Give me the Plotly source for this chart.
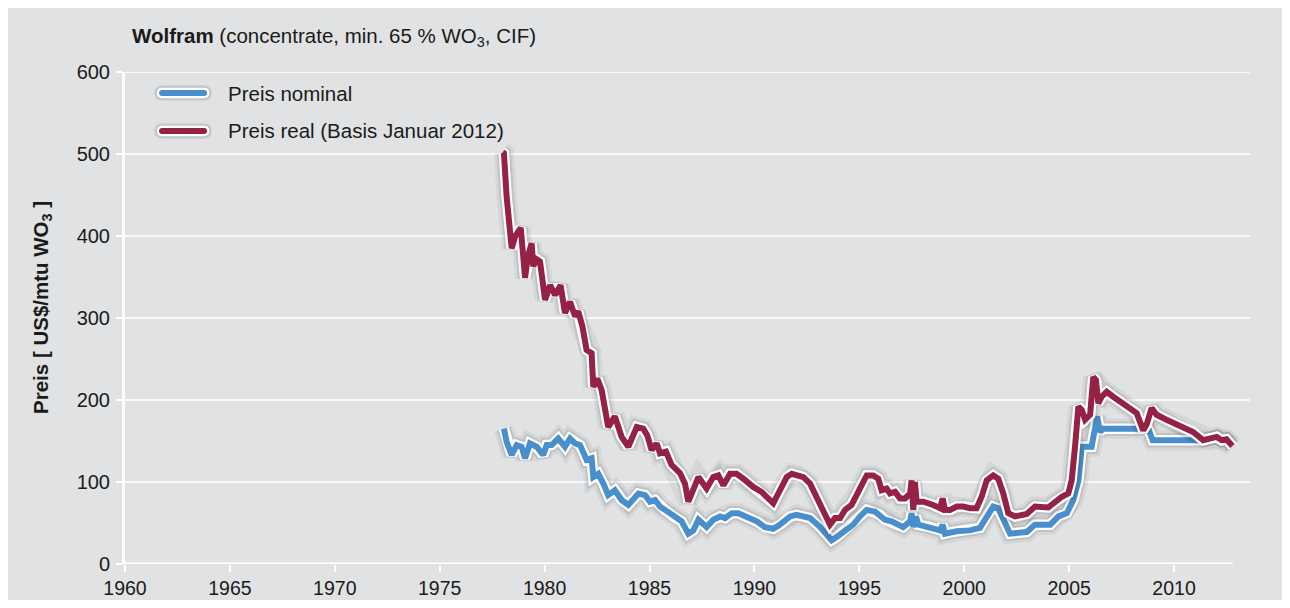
import plotly.graph_objects as go

# ---------------- data ----------------
real_years = [1978.0, 1978.06, 1978.19, 1978.43, 1978.6, 1978.86, 1979.07, 1979.2, 1979.38, 1979.46,
              1979.6, 1979.78, 1980.02, 1980.26, 1980.5, 1980.76, 1980.97, 1981.21, 1981.45, 1981.6,
              1981.8, 1982.0, 1982.24, 1982.32, 1982.51, 1982.72, 1983.03, 1983.35, 1983.67, 1983.99,
              1984.39, 1984.7, 1984.89, 1985.1, 1985.34, 1985.5, 1985.78, 1986.05, 1986.45, 1986.69,
              1986.85, 1987.17, 1987.33, 1987.72, 1988.04, 1988.28, 1988.52, 1988.84, 1989.15, 1989.47,
              1989.94, 1990.34, 1990.58, 1990.9, 1991.22, 1991.54, 1991.78, 1992.09, 1992.33, 1992.65,
              1992.96, 1993.28, 1993.6, 1993.84, 1994.08, 1994.32, 1994.63, 1994.87, 1995.11, 1995.35,
              1995.66, 1995.9, 1996.06, 1996.3, 1996.46, 1996.7, 1996.94, 1997.18, 1997.42, 1997.49,
              1997.57, 1997.65, 1997.73, 1998.05, 1998.52, 1998.85, 1998.97, 1999.08, 1999.32, 1999.64,
              1999.95, 2000.27, 2000.59, 2000.83, 2001.07, 2001.38, 2001.62, 2001.86, 2002.1, 2002.42,
              2002.98, 2003.37, 2004.01, 2004.33, 2004.65, 2004.96, 2005.12, 2005.28, 2005.44, 2005.6,
              2005.76, 2006.0, 2006.15, 2006.28, 2006.39, 2006.55, 2006.79, 2007.1, 2007.42, 2007.82,
              2008.22, 2008.53, 2008.69, 2008.93, 2009.17, 2009.64, 2010.12, 2010.52, 2010.91, 2011.39,
              2011.71, 2012.03, 2012.27, 2012.5, 2012.78]
real_price = [502, 501, 448, 385, 400, 410, 349, 375, 391, 363,
              372, 369, 322, 340, 328, 340, 306, 320, 302, 308,
              290, 261, 257, 216, 226, 212, 167, 180, 155, 143,
              167, 165, 157, 139, 147, 135, 137, 121, 111, 98,
              76, 98, 106, 92, 106, 108, 96, 110, 110, 104,
              94, 88, 82, 74, 90, 106, 110, 108, 106, 98,
              82, 66, 48, 56, 56, 66, 72, 84, 98, 108,
              108, 104, 90, 92, 86, 88, 80, 80, 86, 102,
              66, 100, 76, 76, 72, 68, 80, 66, 66, 70,
              70, 68, 68, 82, 102, 108, 104, 86, 62, 58,
              61, 70, 69, 76, 82, 86, 102, 143, 192, 188,
              176, 182, 228, 224, 196, 204, 210, 204, 198, 192,
              184, 163, 170, 190, 182, 176, 170, 165, 161, 151,
              153, 155, 151, 152, 144]

nominal_years = [1978.06, 1978.19, 1978.43, 1978.67, 1978.9, 1979.07, 1979.3, 1979.62, 1979.93, 1980.1,
                 1980.33, 1980.65, 1980.97, 1981.21, 1981.45, 1981.69, 1982.0, 1982.24, 1982.32, 1982.56,
                 1982.8, 1983.03, 1983.35, 1983.67, 1983.99, 1984.47, 1984.79, 1985.02, 1985.26, 1985.5,
                 1985.74, 1986.13, 1986.53, 1986.85, 1987.09, 1987.33, 1987.72, 1988.04, 1988.36, 1988.6,
                 1988.92, 1989.23, 1989.63, 1990.11, 1990.5, 1990.9, 1991.22, 1991.7, 1992.01, 1992.33,
                 1992.65, 1993.13, 1993.44, 1993.68, 1993.92, 1994.32, 1994.71, 1995.03, 1995.35, 1995.74,
                 1995.98, 1996.22, 1996.54, 1996.78, 1997.09, 1997.42, 1997.49, 1997.57, 1997.7, 1997.81,
                 1998.37, 1998.85, 1998.97, 1999.08, 1999.64, 2000.27, 2000.75, 2001.07, 2001.38, 2001.62,
                 2001.86, 2002.18, 2002.98, 2003.37, 2004.1, 2004.49, 2004.89, 2005.2, 2005.44, 2005.6,
                 2006.07, 2006.34, 2006.47, 2006.63, 2008.77, 2008.98, 2011.39, 2011.71, 2012.03, 2012.27,
                 2012.5, 2012.78]
nominal_price = [165, 149, 133, 145, 143, 129, 147, 143, 133, 145,
                 145, 153, 143, 153, 147, 145, 127, 129, 106, 110,
                 98, 84, 90, 78, 72, 86, 84, 76, 78, 70,
                 66, 58, 52, 37, 41, 54, 45, 54, 58, 56,
                 62, 62, 58, 52, 45, 43, 48, 58, 60, 58,
                 56, 45, 35, 29, 33, 41, 48, 58, 66, 64,
                 60, 54, 52, 48, 45, 52, 62, 45, 58, 48,
                 45, 41, 48, 37, 40, 41, 44, 58, 70, 68,
                 54, 37, 39, 48, 48, 58, 62, 78, 102, 143,
                 143, 180, 161, 165, 165, 151, 151, 153, 155, 151,
                 152, 144]

x_ticks = [1960, 1965, 1970, 1975, 1980, 1985, 1990, 1995, 2000, 2005, 2010]
y_ticks = [0, 100, 200, 300, 400, 500, 600]

series_names = ["Preis nominal", "Preis real (Basis Januar 2012)"]
series_colors = ["#4A8FCD", "#952144"]

# ---------------- styling ----------------
FONT = "Liberation Sans, Arial, sans-serif"
TXT = "#1a1a1a"
BG = "#E1E2E4"
X_MIN, X_MAX = 1960, 2013.62
AXIS_END = 2012.8

fig = go.Figure()

def add_series(xs, ys, color, name):
    # soft shadow, white outline, coloured core
    fig.add_trace(go.Scatter(x=xs, y=ys, mode="lines", showlegend=False, hoverinfo="skip",
                             line=dict(color="rgba(30,30,30,0.06)", width=20)))
    fig.add_trace(go.Scatter(x=xs, y=ys, mode="lines", showlegend=False, hoverinfo="skip",
                             line=dict(color="rgba(30,30,30,0.11)", width=14.5)))
    fig.add_trace(go.Scatter(x=xs, y=ys, mode="lines", showlegend=False, hoverinfo="skip",
                             line=dict(color="white", width=10.5)))
    fig.add_trace(go.Scatter(x=xs, y=ys, mode="lines", name=name, showlegend=False,
                             line=dict(color=color, width=6)))

add_series(nominal_years, nominal_price, series_colors[0], series_names[0])
add_series(real_years, real_price, series_colors[1], series_names[1])

shapes = []
# grey panel with thin white frame
shapes.append(dict(type="rect", xref="paper", yref="paper", x0=-0.1058, x1=1.0311, y0=-0.0752, y1=1.1341,
                   fillcolor=BG, line=dict(width=0), layer="below"))
# horizontal gridlines
for v in y_ticks[1:]:
    shapes.append(dict(type="line", xref="paper", yref="y", x0=0, x1=1, y0=v, y1=v,
                       line=dict(color="white", width=1.6), layer="below"))
# x axis line (ends before the plot edge)
shapes.append(dict(type="line", xref="x", yref="y", x0=X_MIN, x1=AXIS_END, y0=0, y1=0,
                   line=dict(color="white", width=3), layer="below"))


def stadium(a, r):
    """rounded line-sample outline in pixels, centred on its anchor"""
    return (f"M {-a},{-r} L {a},{-r} Q {a + r},{-r} {a + r},0 Q {a + r},{r} {a},{r} "
            f"L {-a},{r} Q {-a - r},{r} {-a - r},0 Q {-a - r},{-r} {-a},{-r} Z")


# manual legend (samples with rounded ends)
leg_y = [0.9573, 0.8801]
leg_cx = 0.0516          # sample centre (plot fraction)
half_len = 21            # px
annotations = []
for name, color, yy in zip(series_names, series_colors, leg_y):
    for col, r in [("rgba(30,30,30,0.08)", 8.0), ("rgba(30,30,30,0.10)", 6.5), ("white", 5.2), (color, 3.0)]:
        shapes.append(dict(type="path", xref="paper", yref="paper", xsizemode="pixel", ysizemode="pixel",
                           xanchor=leg_cx, yanchor=yy, path=stadium(half_len, r),
                           fillcolor=col, line=dict(width=0), layer="above"))
    annotations.append(dict(x=0.0898, y=yy, xref="paper", yref="paper", xanchor="left", yanchor="middle",
                            text=name, showarrow=False, font=dict(family=FONT, size=20.5, color=TXT)))

# title
annotations.append(dict(x=0.0044, y=1.0711, xref="paper", yref="paper", xanchor="left", yanchor="middle",
                        text="<b>Wolfram</b> (concentrate, min. 65 % WO<sub>3</sub>, CIF)",
                        showarrow=False, font=dict(family=FONT, size=20.5, color=TXT)))
# y-axis title
annotations.append(dict(x=-0.0738, y=0.5224, xref="paper", yref="paper", xanchor="center", yanchor="middle",
                        text="<b>Preis [ US$/mtu WO<sub>3</sub> ]</b>", textangle=-90,
                        showarrow=False, font=dict(family=FONT, size=20.5, color=TXT)))

# page body has an 8 px margin: shrink the figure and shift margins to compensate
fig.update_layout(
    width=1274, height=592,
    margin=dict(l=117, r=32, t=64, b=36, autoexpand=False),
    paper_bgcolor="white",
    plot_bgcolor=BG,
    showlegend=False,
    font=dict(family=FONT, size=18, color=TXT),
    shapes=shapes,
    annotations=annotations,
    xaxis=dict(range=[X_MIN, X_MAX], tickvals=x_ticks, ticktext=[str(t) for t in x_ticks],
               showgrid=False, zeroline=False, showline=False, automargin=False,
               ticks="outside", ticklen=7, tickwidth=2, tickcolor="white", ticklabelstandoff=0,
               tickfont=dict(family=FONT, size=19.5, color=TXT)),
    yaxis=dict(range=[0, 600], tickvals=y_ticks, ticktext=[str(t) for t in y_ticks],
               showgrid=False, zeroline=False, showline=True, linecolor="white", linewidth=3,
               automargin=False,
               ticks="outside", ticklen=6, tickwidth=2, tickcolor="white", ticklabelstandoff=2,
               tickfont=dict(family=FONT, size=20, color=TXT)),
)

fig.write_html("out.html")
